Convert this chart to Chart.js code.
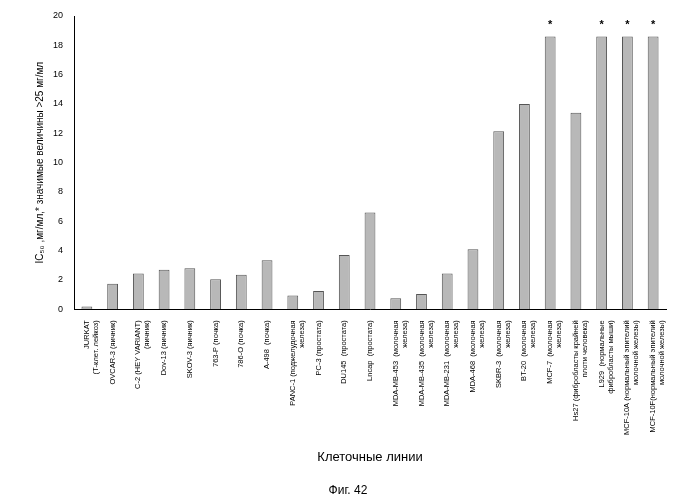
<!DOCTYPE html>
<html>
<head>
<meta charset="utf-8">
<script src="https://cdn.jsdelivr.net/npm/chart.js@4/dist/chart.umd.min.js"></script>
<style>
  body { margin: 0; background: #fff; }
  #wrap { width: 680px; height: 500px; }
</style>
</head>
<body>
<div id="wrap"><canvas id="chart"></canvas></div>
<script>
const cellLines = [
  ["JURKAT", "(Т-клет. лейкоз)"],
  ["OVCAR-3 (яичник)"],
  ["C-2 (HEY VARIANT)", "(яичник)"],
  ["Dov-13 (яичник)"],
  ["SKOV-3 (яичник)"],
  ["763-P (почка)"],
  ["786-O (почка)"],
  ["A-498  (почка)"],
  ["PANC-1 (поджелудочная", "железа)"],
  ["PC-3 (простата)"],
  ["DU145  (простата)"],
  ["Lncap  (простата)"],
  ["MDA-MB-453  (молочная", "железа)"],
  ["MDA-MB-435  (молочная", "железа)"],
  ["MDA-MB-231  (молочная", "железа)"],
  ["MDA-468  (молочная", "железа)"],
  ["SKBR-3  (молочная", "железа)"],
  ["BT-20  (молочная", "железа)"],
  ["MCF-7  (молочная", "железа)"],
  ["Hs27 (фибробласты крайней", "плоти человека)"],
  ["L929  (нормальные", "фибробласты мыши)"],
  ["MCF-10A (нормальный эпителий", "молочной железы)"],
  ["MCF-10F(нормальный эпителий", "молочной железы)"]
];
const ic50Values = [0.2, 1.75, 2.45, 2.7, 2.8, 2.05, 2.35, 3.35, 0.95, 1.25, 3.7, 6.6,
  0.75, 1.05, 2.45, 4.1, 12.15, 14.0, 18.6, 13.4, 18.6, 18.6, 18.6];
const significant = [false, false, false, false, false, false, false, false, false, false, false, false,
  false, false, false, false, false, false, true, false, true, true, true];
const yTicks = [0, 2, 4, 6, 8, 10, 12, 14, 16, 18, 20];

const starPlugin = {
  id: "stars",
  afterDatasetsDraw(chart) {
    const ctx = chart.ctx;
    const meta = chart.getDatasetMeta(0);
    const y = chart.scales.y.getPixelForValue(19.6);
    ctx.save();
    ctx.fillStyle = "#000";
    ctx.font = "bold 11px 'Liberation Sans'";
    ctx.textAlign = "center";
    meta.data.forEach((bar, i) => {
      if (significant[i]) ctx.fillText("*", bar.x, y + 6);
    });
    ctx.restore();
  }
};

new Chart(document.getElementById("chart"), {
  type: "bar",
  data: {
    labels: cellLines,
    datasets: [{
      data: ic50Values,
      backgroundColor: "#b8b8b8",
      borderColor: "#555",
      borderWidth: 1,
      barPercentage: 0.42,
      categoryPercentage: 1
    }]
  },
  options: {
    responsive: true,
    maintainAspectRatio: false,
    animation: false,
    layout: { padding: { left: 30, right: 14, top: 16, bottom: 2 } },
    plugins: {
      legend: { display: false },
      tooltip: { enabled: false },
      title: {
        display: true,
        position: "bottom",
        text: "Фиг. 42",
        color: "#000",
        font: { family: "'Liberation Sans'", size: 12, weight: "normal" },
        padding: { top: 14, bottom: 0 }
      }
    },
    scales: {
      x: {
        grid: { display: false, drawTicks: true },
        border: { color: "#000" },
        ticks: {
          color: "#000",
          font: { family: "'Liberation Sans'", size: 7.5 },
          minRotation: 90,
          maxRotation: 90,
          autoSkip: false
        },
        title: {
          display: true,
          text: "Клеточные линии",
          color: "#000",
          font: { family: "'Liberation Sans'", size: 13 },
          padding: { top: 12 }
        }
      },
      y: {
        min: 0,
        max: 20,
        afterBuildTicks(axis) { axis.ticks = yTicks.map(v => ({ value: v })); },
        grid: { display: false, drawTicks: true },
        border: { color: "#000" },
        ticks: {
          color: "#000",
          font: { family: "'Liberation Sans'", size: 9 }
        },
        title: {
          display: true,
          text: "IC₅₀ ,мг/мл,* значимые величины >25 мг/мл",
          color: "#000",
          font: { family: "'Liberation Sans'", size: 10 }
        }
      }
    }
  },
  plugins: [starPlugin]
});
</script>
</body>
</html>
